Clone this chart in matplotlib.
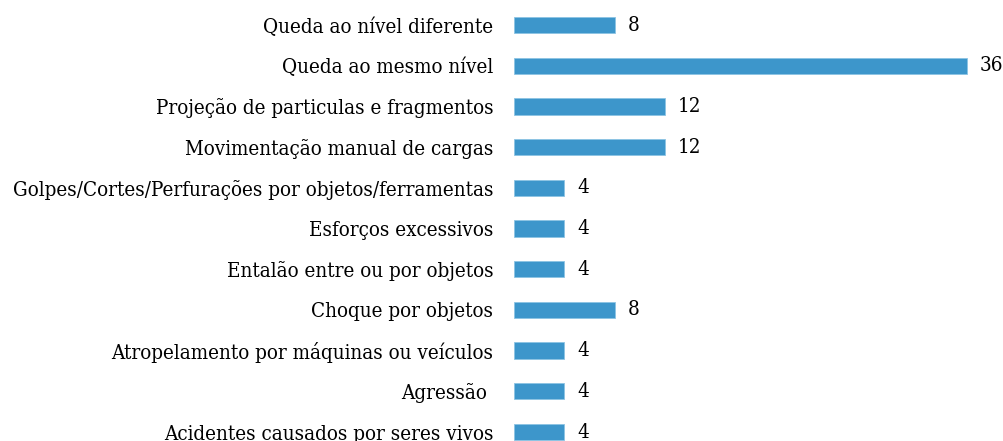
import matplotlib
matplotlib.use("Agg")
import matplotlib.pyplot as plt

categories = [
    "Queda ao nível diferente",
    "Queda ao mesmo nível",
    "Projeção de particulas e fragmentos",
    "Movimentação manual de cargas",
    "Golpes/Cortes/Perfurações por objetos/ferramentas",
    "Esforços excessivos",
    "Entalão entre ou por objetos",
    "Choque por objetos",
    "Atropelamento por máquinas ou veículos",
    "Agressão ",
    "Acidentes causados por seres vivos",
]
values = [8, 36, 12, 12, 4, 4, 4, 8, 4, 4, 4]

W, H = 1004, 441
fig = plt.figure(figsize=(W / 100, H / 100), dpi=100)
ax = fig.add_axes([514 / W, 0, 490 / W, 1])

pos = list(range(len(categories)))
ax.barh(pos, values, height=0.4, color="#3d96cb", edgecolor="#8cc3e3", linewidth=0.6)
ax.set_xlim(0, 490 / 12.58)
ax.set_ylim(10 + 9 / 40.7, -25 / 40.7)
ax.set_yticks(pos)
ax.set_yticklabels(categories, family="DejaVu Serif", fontstretch="condensed", fontsize=14.8)
ax.tick_params(axis="y", length=0, pad=15)
ax.set_xticks([])
for s in ax.spines.values():
    s.set_visible(False)
for p, v in zip(pos, values):
    ax.annotate(str(v), (v, p), xytext=(9.4, 0), textcoords="offset points",
                va="center", ha="left", family="DejaVu Serif", fontstretch="condensed",
                fontsize=14.8, annotation_clip=False)

fig.savefig("out.png", dpi=100)
